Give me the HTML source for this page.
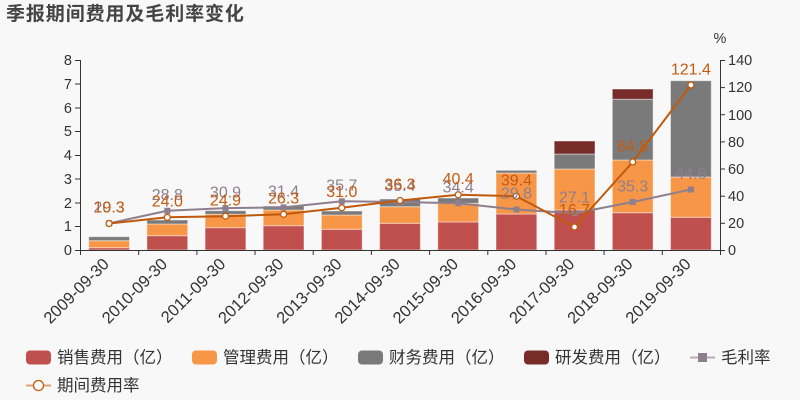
<!DOCTYPE html>
<html><head><meta charset="utf-8">
<style>
html,body{margin:0;padding:0;background:#f8f8f8;}
svg{display:block;}
text{font-family:"Liberation Sans","Noto Sans CJK SC",sans-serif;}
</style></head>
<body>
<svg width="800" height="400" viewBox="0 0 800 400" xmlns="http://www.w3.org/2000/svg">
<rect x="0" y="0" width="800" height="400" fill="#f8f8f8"/>
<text x="6" y="20" font-size="19" font-weight="bold" fill="#444" letter-spacing="0.9" style="font-family:'Noto Sans CJK SC','WenQuanYi Zen Hei',sans-serif">季报期间费用及毛利率变化</text>

<!-- bars -->
<g stroke="#ffffff" stroke-opacity="0.45" stroke-width="1">
<rect x="88.7" y="247.7" width="40.8" height="2.3" fill="#c0504d"/>
<rect x="88.7" y="240.7" width="40.8" height="7" fill="#f79646"/>
<rect x="88.7" y="236.7" width="40.8" height="4" fill="#7a7a7a"/>
<rect x="146.9" y="235.7" width="40.8" height="14.3" fill="#c0504d"/>
<rect x="146.9" y="224" width="40.8" height="11.7" fill="#f79646"/>
<rect x="146.9" y="220" width="40.8" height="4" fill="#7a7a7a"/>
<rect x="205.1" y="227.7" width="40.8" height="22.3" fill="#c0504d"/>
<rect x="205.1" y="214.3" width="40.8" height="13.4" fill="#f79646"/>
<rect x="205.1" y="210.7" width="40.8" height="3.6" fill="#7a7a7a"/>
<rect x="263.2" y="225.7" width="40.8" height="24.3" fill="#c0504d"/>
<rect x="263.2" y="210" width="40.8" height="15.7" fill="#f79646"/>
<rect x="263.2" y="206" width="40.8" height="4" fill="#7a7a7a"/>
<rect x="321.4" y="229.3" width="40.8" height="20.7" fill="#c0504d"/>
<rect x="321.4" y="215" width="40.8" height="14.3" fill="#f79646"/>
<rect x="321.4" y="211" width="40.8" height="4" fill="#7a7a7a"/>
<rect x="379.6" y="223.3" width="40.8" height="26.7" fill="#c0504d"/>
<rect x="379.6" y="206.7" width="40.8" height="16.6" fill="#f79646"/>
<rect x="379.6" y="199" width="40.8" height="7.7" fill="#7a7a7a"/>
<rect x="437.8" y="222" width="40.8" height="28" fill="#c0504d"/>
<rect x="437.8" y="203.3" width="40.8" height="18.7" fill="#f79646"/>
<rect x="437.8" y="198" width="40.8" height="5.3" fill="#7a7a7a"/>
<rect x="496" y="214" width="40.8" height="36" fill="#c0504d"/>
<rect x="496" y="173" width="40.8" height="41" fill="#f79646"/>
<rect x="496" y="170.3" width="40.8" height="2.7" fill="#7a7a7a"/>
<rect x="554.2" y="210" width="40.8" height="40" fill="#c0504d"/>
<rect x="554.2" y="169" width="40.8" height="41" fill="#f79646"/>
<rect x="554.2" y="154" width="40.8" height="15" fill="#7a7a7a"/>
<rect x="554.2" y="141" width="40.8" height="13" fill="#772c2a"/>
<rect x="612.3" y="212.7" width="40.8" height="37.3" fill="#c0504d"/>
<rect x="612.3" y="160" width="40.8" height="52.7" fill="#f79646"/>
<rect x="612.3" y="99.3" width="40.8" height="60.7" fill="#7a7a7a"/>
<rect x="612.3" y="89" width="40.8" height="10.3" fill="#772c2a"/>
<rect x="670.5" y="217.3" width="40.8" height="32.7" fill="#c0504d"/>
<rect x="670.5" y="177" width="40.8" height="40.3" fill="#f79646"/>
<rect x="670.5" y="80.7" width="40.8" height="96.3" fill="#7a7a7a"/>
</g>

<!-- axes -->
<g stroke="#333" stroke-width="1" fill="none">
<line x1="80.5" y1="60" x2="80.5" y2="250"/>
<line x1="720.5" y1="60" x2="720.5" y2="250"/>
<line x1="80" y1="250.5" x2="721" y2="250.5"/>
<line x1="75" y1="250.5" x2="80" y2="250.5"/>
<line x1="75" y1="226.5" x2="80" y2="226.5"/>
<line x1="75" y1="203" x2="80" y2="203"/>
<line x1="75" y1="179" x2="80" y2="179"/>
<line x1="75" y1="155.5" x2="80" y2="155.5"/>
<line x1="75" y1="131.5" x2="80" y2="131.5"/>
<line x1="75" y1="108" x2="80" y2="108"/>
<line x1="75" y1="84" x2="80" y2="84"/>
<line x1="75" y1="60.5" x2="80" y2="60.5"/>
<line x1="720" y1="250.5" x2="725" y2="250.5"/>
<line x1="720" y1="223.3" x2="725" y2="223.3"/>
<line x1="720" y1="196.2" x2="725" y2="196.2"/>
<line x1="720" y1="169" x2="725" y2="169"/>
<line x1="720" y1="141.9" x2="725" y2="141.9"/>
<line x1="720" y1="114.7" x2="725" y2="114.7"/>
<line x1="720" y1="87.6" x2="725" y2="87.6"/>
<line x1="720" y1="60.5" x2="725" y2="60.5"/>
<line x1="80.5" y1="250" x2="80.5" y2="255"/>
<line x1="138.7" y1="250" x2="138.7" y2="255"/>
<line x1="196.9" y1="250" x2="196.9" y2="255"/>
<line x1="255" y1="250" x2="255" y2="255"/>
<line x1="313.2" y1="250" x2="313.2" y2="255"/>
<line x1="371.4" y1="250" x2="371.4" y2="255"/>
<line x1="429.6" y1="250" x2="429.6" y2="255"/>
<line x1="487.8" y1="250" x2="487.8" y2="255"/>
<line x1="546" y1="250" x2="546" y2="255"/>
<line x1="604.1" y1="250" x2="604.1" y2="255"/>
<line x1="662.3" y1="250" x2="662.3" y2="255"/>
<line x1="720.5" y1="250" x2="720.5" y2="255"/>
</g>

<g font-size="14.5" fill="#333" text-anchor="end">
<text x="72" y="255">0</text>
<text x="72" y="231">1</text>
<text x="72" y="208">2</text>
<text x="72" y="184">3</text>
<text x="72" y="160">4</text>
<text x="72" y="136">5</text>
<text x="72" y="113">6</text>
<text x="72" y="89">7</text>
<text x="72" y="65">8</text>
</g>
<g font-size="14.5" fill="#333" text-anchor="start">
<text x="728" y="255">0</text>
<text x="728" y="228">20</text>
<text x="728" y="201">40</text>
<text x="728" y="174">60</text>
<text x="728" y="147">80</text>
<text x="728" y="120">100</text>
<text x="728" y="92">120</text>
<text x="728" y="65">140</text>
</g>
<text x="720" y="43" font-size="14.5" fill="#333" text-anchor="middle">%</text>

<!-- x labels -->
<g font-size="16.5" fill="#333" text-anchor="end">
<text transform="translate(110,265) rotate(-45)">2009-09-30</text>
<text transform="translate(168.3,265) rotate(-45)">2010-09-30</text>
<text transform="translate(226.5,265) rotate(-45)">2011-09-30</text>
<text transform="translate(284.6,265) rotate(-45)">2012-09-30</text>
<text transform="translate(342.8,265) rotate(-45)">2013-09-30</text>
<text transform="translate(401,265) rotate(-45)">2014-09-30</text>
<text transform="translate(459.2,265) rotate(-45)">2015-09-30</text>
<text transform="translate(517.4,265) rotate(-45)">2016-09-30</text>
<text transform="translate(575.5,265) rotate(-45)">2017-09-30</text>
<text transform="translate(633.7,265) rotate(-45)">2018-09-30</text>
<text transform="translate(691.9,265) rotate(-45)">2019-09-30</text>
</g>

<!-- GM line -->
<polyline fill="none" stroke="#8e7f8e" stroke-width="2" points="109.1,223.3 167.3,210.8 225.5,208.1 283.6,207.4 341.8,201.3 400,202 458.2,203.2 516.4,209.5 574.5,213.2 632.7,202 690.9,189.5"/>
<g fill="#8e7f8e">
<rect x="106.1" y="220.3" width="6" height="6"/>
<rect x="164.3" y="207.8" width="6" height="6"/>
<rect x="222.5" y="205.1" width="6" height="6"/>
<rect x="280.6" y="204.4" width="6" height="6"/>
<rect x="338.8" y="198.3" width="6" height="6"/>
<rect x="397" y="199" width="6" height="6"/>
<rect x="455.2" y="200.2" width="6" height="6"/>
<rect x="513.4" y="206.5" width="6" height="6"/>
<rect x="571.5" y="210.2" width="6" height="6"/>
<rect x="629.7" y="199" width="6" height="6"/>
<rect x="687.9" y="186.5" width="6" height="6"/>
</g>

<!-- ER line -->
<polyline fill="none" stroke="#c0590c" stroke-width="2" points="109.1,223.5 167.3,217.3 225.5,216.2 283.6,214.3 341.8,207.8 400,200.5 458.2,194.8 516.4,196.2 574.5,227 632.7,162 690.9,85"/>
<g fill="#fff" stroke="#c0590c" stroke-width="1.3">
<circle cx="109.1" cy="223.5" r="3"/>
<circle cx="167.3" cy="217.3" r="3"/>
<circle cx="225.5" cy="216.2" r="3"/>
<circle cx="283.6" cy="214.3" r="3"/>
<circle cx="341.8" cy="207.8" r="3"/>
<circle cx="400" cy="200.5" r="3"/>
<circle cx="458.2" cy="194.8" r="3"/>
<circle cx="516.4" cy="196.2" r="3"/>
<circle cx="574.5" cy="227" r="3"/>
<circle cx="632.7" cy="162" r="3"/>
<circle cx="690.9" cy="85" r="3"/>
</g>

<!-- GM labels -->
<g font-size="16" fill="#8e7f8e" text-anchor="middle">
<text x="109.1" y="212.5">20.3</text>
<text x="167.3" y="200">28.8</text>
<text x="225.5" y="197.3">30.9</text>
<text x="283.6" y="196.6">31.4</text>
<text x="341.8" y="190.5">35.7</text>
<text x="400" y="191.2">35.4</text>
<text x="458.2" y="192.4">34.4</text>
<text x="516.4" y="198.7">29.8</text>
<text x="574.5" y="202.7">27.1</text>
<text x="632.7" y="191.5">35.3</text>
<text x="690.9" y="179">44.6</text>
</g>
<!-- ER labels -->
<g font-size="16" fill="#c55a11" text-anchor="middle">
<text x="109.1" y="212.5">19.3</text>
<text x="167.3" y="206.5">24.0</text>
<text x="225.5" y="205.4">24.9</text>
<text x="283.6" y="203.5">26.3</text>
<text x="341.8" y="197">31.0</text>
<text x="400" y="189.7">36.3</text>
<text x="458.2" y="184">40.4</text>
<text x="516.4" y="185.4">39.4</text>
<text x="574.5" y="215">16.7</text>
<text x="632.7" y="151.5">64.8</text>
<text x="690.9" y="74.5">121.4</text>
</g>

<!-- legend -->
<g font-size="16.5" fill="#333" style="font-family:'Liberation Sans','Noto Sans CJK SC',sans-serif">
<rect x="26" y="350.5" width="25" height="14" rx="4" fill="#c0504d"/>
<text x="57" y="363">销售费用（亿）</text>
<rect x="192" y="350.5" width="25" height="14" rx="4" fill="#f79646"/>
<text x="223" y="363">管理费用（亿）</text>
<rect x="358" y="350.5" width="25" height="14" rx="4" fill="#7a7a7a"/>
<text x="389" y="363">财务费用（亿）</text>
<rect x="524" y="350.5" width="25" height="14" rx="4" fill="#772c2a"/>
<text x="555" y="363">研发费用（亿）</text>
<line x1="690" y1="357.5" x2="715" y2="357.5" stroke="#b8aab8" stroke-width="2"/>
<rect x="698" y="353" width="9" height="9" fill="#8e7f8e"/>
<text x="721" y="363">毛利率</text>
<line x1="26" y1="385.5" x2="51" y2="385.5" stroke="#dca37a" stroke-width="2"/>
<circle cx="38.5" cy="385.5" r="5" fill="#fff" stroke="#c0590c" stroke-width="1.3"/>
<text x="57" y="391">期间费用率</text>
</g>
</svg>
</body></html>
